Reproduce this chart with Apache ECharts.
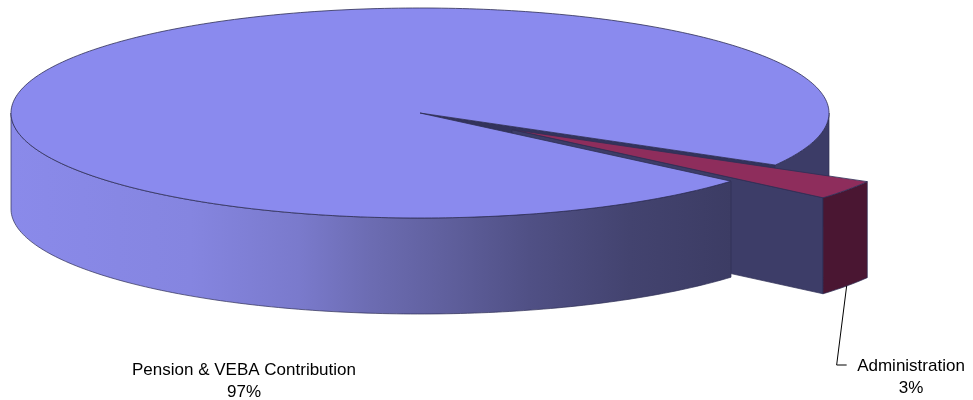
<!DOCTYPE html>
<html>
<head>
<meta charset="utf-8">
<script src="https://cdn.jsdelivr.net/npm/echarts@6/dist/echarts.min.js"></script>
<style>
  html, body { margin: 0; padding: 0; background: #fff; }
  #chart { width: 973px; height: 400px; }
</style>
</head>
<body>
<div id="chart"></div>
<script>
const categories = ['Pension & VEBA Contribution', 'Administration'];
const values = [97, 3];
const pctLabels = ['97%', '3%'];
const explode = [0, 0.275];

// tilted disc layout
const cx = 420, cy = 113, rx = 409, ry = 105, depth = 96;
const startDeg = 40.5;
const labelPos = [[244, 359], [911, 355]];

const topColors = ['#8a8aee', '#8e2d5c'];
const sideColors = ['#3c3c67', '#4a1632'];
const edge = '#2e2e55';

const deg = Math.PI / 180;
const total = values.reduce((a, b) => a + b, 0);
const angles = [];
let acc = startDeg * deg;
values.forEach(v => {
    const a0 = acc;
    acc += v / total * Math.PI * 2;
    angles.push([a0, acc]);
});

function P(a, r, ox, oy, h) {
    return [cx + ox + rx * r * Math.cos(a), cy + oy + ry * r * Math.sin(a) + h];
}
function arcPts(a0, a1, ox, oy, h) {
    const n = Math.max(2, Math.ceil(Math.abs(a1 - a0) / deg));
    const pts = [];
    for (let k = 0; k <= n; k++) pts.push(P(a0 + (a1 - a0) * k / n, 1, ox, oy, h));
    return pts;
}
function wallPts(a0, a1, ox, oy) {
    return arcPts(a0, a1, ox, oy, 0).concat(arcPts(a1, a0, ox, oy, depth));
}
function radialPts(a, ox, oy) {
    return [P(a, 0, ox, oy, 0), P(a, 1, ox, oy, 0), P(a, 1, ox, oy, depth), P(a, 0, ox, oy, depth)];
}
// parts of the rim that face the viewer (angles 0..180 going clockwise on screen)
function frontRanges(a0, a1) {
    const res = [];
    for (let base = -2 * Math.PI; base <= 4 * Math.PI; base += 2 * Math.PI) {
        const s = Math.max(a0, base), e = Math.min(a1, base + Math.PI);
        if (e > s) res.push([s, e]);
    }
    return res;
}
function poly(points, fill, z2, lw) {
    return {
        type: 'polygon', z2: z2,
        shape: { points: points },
        style: { fill: fill, stroke: edge, lineWidth: lw == null ? 0.7 : lw }
    };
}

function renderItem(params, api) {
    const i = params.dataIndex;
    const a0 = angles[i][0], a1 = angles[i][1];
    const mid = (a0 + a1) / 2;
    const ox = explode[i] * rx * Math.cos(mid);
    const oy = explode[i] * ry * Math.sin(mid);
    const isOut = explode[i] > 0;
    const nextOut = explode[(i + 1) % values.length] > 0;
    const children = [];

    // radial cut faces
    if (Math.cos(a1) > 0) {
        children.push(poly(radialPts(a1, ox, oy), isOut ? '#3d3d68' : '#33335c', isOut ? 10 : 2));
    }
    if (Math.cos(a0) < 0) {
        children.push(poly(radialPts(a0, ox, oy), '#3d3d68', isOut ? 10 : 2));
    }

    // outer rim
    frontRanges(a0, a1).forEach(r => {
        const pts = wallPts(r[0], r[1], ox, oy);
        let fill = sideColors[i];
        let z2 = isOut ? 11 : 20;
        if (!isOut && nextOut && Math.abs(r[1] - a1) < 1e-6) {
            z2 = 1;
        } else if (!isOut) {
            fill = new echarts.graphic.LinearGradient(0, 0, 1, 0, [
                { offset: 0, color: '#8a8aea' },
                { offset: 0.25, color: '#8585e0' },
                { offset: 0.4, color: '#7a7acc' },
                { offset: 0.5, color: '#6c6cb2' },
                { offset: 0.6, color: '#60609e' },
                { offset: 0.72, color: '#505085' },
                { offset: 0.86, color: '#43436f' },
                { offset: 1, color: '#3c3c64' }
            ]);
        }
        children.push(poly(pts, fill, z2));
    });

    // top face
    const topPts = [P(a0, 0, ox, oy, 0)].concat(arcPts(a0, a1, ox, oy, 0));
    children.push(poly(topPts, topColors[i], isOut ? 12 : 30, 0.8));

    // label
    const lp = labelPos[i];
    children.push({
        type: 'text', z2: 40,
        style: {
            text: categories[i] + '\n' + pctLabels[i],
            x: lp[0], y: lp[1],
            align: 'center', verticalAlign: 'top',
            font: '17px "Liberation Sans", Arial, sans-serif',
            lineHeight: 22, fill: '#000'
        }
    });
    if (isOut) {
        const b = P(mid, 1, ox, oy, depth);
        const ly = lp[1] + 10;
        children.push({
            type: 'polyline', z2: 40,
            shape: { points: [b, [b[0] - 10, ly], [b[0], ly]] },
            style: { stroke: '#000', lineWidth: 1, fill: null }
        });
    }

    return { type: 'group', children: children };
}

const myChart = echarts.init(document.getElementById('chart'));
myChart.setOption({
    animation: false,
    series: [{
        type: 'custom',
        coordinateSystem: 'none',
        silent: true,
        renderItem: renderItem,
        data: values.map((v, i) => ({ name: categories[i], value: v }))
    }]
});
</script>
</body>
</html>
